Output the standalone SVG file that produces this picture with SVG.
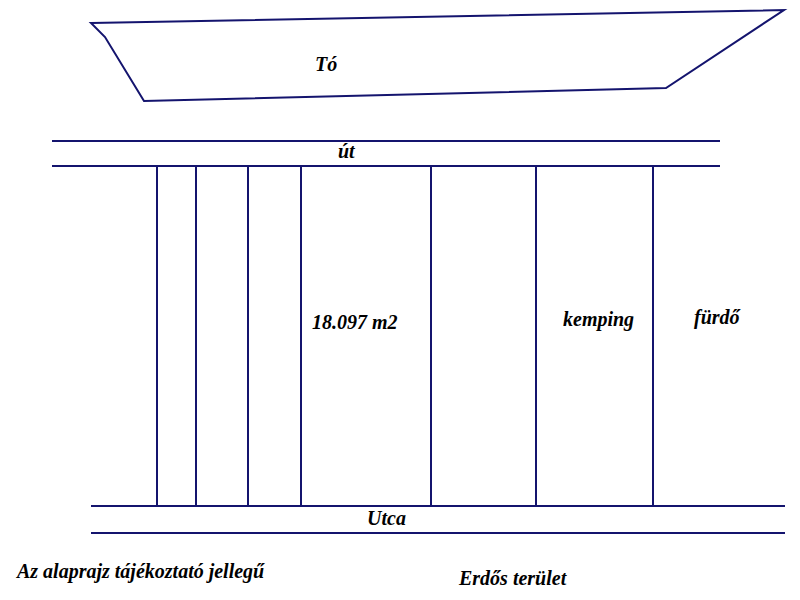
<svg xmlns="http://www.w3.org/2000/svg" width="800" height="600" viewBox="0 0 800 600">
<style>
.ln{stroke:#14146e;stroke-width:2;fill:none}
</style>
<rect width="800" height="600" fill="#fff"/>
<g id="lake">
<polygon class="ln" points="91,23 784,10 666,88 144,101 105,37"/>
</g>
<g id="roads">
<line class="ln" x1="52" y1="141" x2="720" y2="141"/>
<line class="ln" x1="52" y1="166" x2="720" y2="166"/>
<line class="ln" x1="91" y1="506" x2="785" y2="506"/>
<line class="ln" x1="91" y1="533" x2="785" y2="533"/>
</g>
<g id="plots" class="ln">
<line x1="157" y1="166" x2="157" y2="506"/>
<line x1="196" y1="166" x2="196" y2="506"/>
<line x1="248" y1="166" x2="248" y2="506"/>
<line x1="301" y1="166" x2="301" y2="506"/>
<line x1="431" y1="166" x2="431" y2="506"/>
<line x1="536" y1="166" x2="536" y2="506"/>
<line x1="653" y1="166" x2="653" y2="506"/>
</g>
<g id="labels">
<text x="315" y="71" font-family="Liberation Serif" font-weight="bold" font-style="italic" font-size="20">Tó</text>
<text x="338" y="158" font-family="Liberation Serif" font-weight="bold" font-style="italic" font-size="20">út</text>
<text x="367" y="525" font-family="Liberation Serif" font-weight="bold" font-style="italic" font-size="20">Utca</text>
<text x="312" y="329" font-family="Liberation Serif" font-weight="bold" font-style="italic" font-size="20">18.097 m2</text>
<text x="563" y="326" font-family="Liberation Serif" font-weight="bold" font-style="italic" font-size="20">kemping</text>
<text x="694" y="324" font-family="Liberation Serif" font-weight="bold" font-style="italic" font-size="20">fürdő</text>
<text x="17" y="578" font-family="Liberation Serif" font-weight="bold" font-style="italic" font-size="20">Az alaprajz tájékoztató jellegű</text>
<text x="459" y="585" font-family="Liberation Serif" font-weight="bold" font-style="italic" font-size="20">Erdős terület</text>
</g>
</svg>
